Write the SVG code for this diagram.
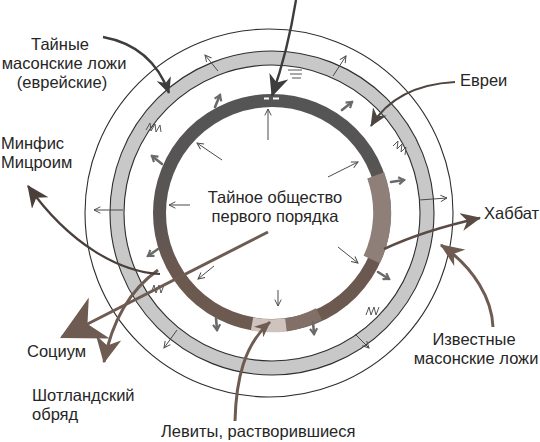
<svg xmlns="http://www.w3.org/2000/svg" width="540" height="442" viewBox="0 0 540 442">
<defs>
<style>
text{font-family:"Liberation Sans",Arial,sans-serif;font-size:16.5px;fill:#262626}
.thin{fill:none;stroke:#4a4a4a;stroke-width:1;marker-end:url(#vt)}
.gr{fill:none;stroke:#6a6a6a;stroke-width:2.6;stroke-linecap:round;marker-end:url(#vg)}
.edge{fill:none;stroke:#2e2e2e;stroke-width:1.1}
.scr{fill:none;stroke:#555;stroke-width:1}
.bigd{fill:none;stroke:#3d3d3d;stroke-width:2.4}
.bigb{fill:none;stroke:#6e5b52;stroke-width:3}
</style>
<linearGradient id="ringg" gradientUnits="userSpaceOnUse" x1="0" y1="95" x2="0" y2="332">
<stop offset="0" stop-color="#555555"/>
<stop offset="0.5" stop-color="#595554"/>
<stop offset="0.72" stop-color="#6a5850"/>
<stop offset="1" stop-color="#6d5a50"/>
</linearGradient>
<marker id="vt" viewBox="0 0 10 10" refX="9" refY="5" markerWidth="8" markerHeight="8" markerUnits="userSpaceOnUse" orient="auto"><path d="M1,1 L9,5 L1,9" fill="none" stroke="#4a4a4a" stroke-width="1.2"/></marker>
<marker id="vg" viewBox="0 0 10 10" refX="8" refY="5" markerWidth="9" markerHeight="9" markerUnits="userSpaceOnUse" orient="auto"><path d="M2,1 L8,5 L2,9" fill="none" stroke="#6a6a6a" stroke-width="2.4"/></marker>
<marker id="hTop" viewBox="0 0 20 16" refX="19" refY="8" markerWidth="22" markerHeight="20" markerUnits="userSpaceOnUse" orient="auto" preserveAspectRatio="none"><path d="M0,0 L20,8 L0,16 L6,8 z" fill="#3d3d3d"/></marker>
<marker id="hTai" viewBox="0 0 20 16" refX="19" refY="8" markerWidth="16" markerHeight="15" markerUnits="userSpaceOnUse" orient="auto" preserveAspectRatio="none"><path d="M0,0 L20,8 L0,16 L6,8 z" fill="#3d3d3d"/></marker>
<marker id="hEv" viewBox="0 0 20 16" refX="19" refY="8" markerWidth="18" markerHeight="16" markerUnits="userSpaceOnUse" orient="auto" preserveAspectRatio="none"><path d="M0,0 L20,8 L0,16 L6,8 z" fill="#4d4541"/></marker>
<marker id="hMin" viewBox="0 0 20 16" refX="19" refY="8" markerWidth="22" markerHeight="20" markerUnits="userSpaceOnUse" orient="auto" preserveAspectRatio="none"><path d="M0,0 L20,8 L0,16 L6,8 z" fill="#4a3f3b"/></marker>
<marker id="hHab" viewBox="0 0 20 16" refX="19" refY="8" markerWidth="20" markerHeight="18" markerUnits="userSpaceOnUse" orient="auto" preserveAspectRatio="none"><path d="M0,0 L20,8 L0,16 L6,8 z" fill="#5b4b45"/></marker>
<marker id="hIzv" viewBox="0 0 20 16" refX="19" refY="8" markerWidth="24" markerHeight="20" markerUnits="userSpaceOnUse" orient="auto" preserveAspectRatio="none"><path d="M0,0 L20,8 L0,16 L6,8 z" fill="#6e5b52"/></marker>
<marker id="hLev" viewBox="0 0 20 16" refX="19" refY="8" markerWidth="16" markerHeight="14" markerUnits="userSpaceOnUse" orient="auto" preserveAspectRatio="none"><path d="M0,0 L20,8 L0,16 L6,8 z" fill="#6e5b52"/></marker>
<marker id="hSoc" viewBox="0 0 20 16" refX="19" refY="8" markerWidth="44" markerHeight="46" markerUnits="userSpaceOnUse" orient="auto" preserveAspectRatio="none"><path d="M0,0 L20,8 L0,16 L6,8 z" fill="#6e5b52"/></marker>
<marker id="hSho" viewBox="0 0 20 16" refX="19" refY="8" markerWidth="26" markerHeight="26" markerUnits="userSpaceOnUse" orient="auto" preserveAspectRatio="none"><path d="M0,0 L20,8 L0,16 L6,8 z" fill="#6e5b52"/></marker>
</defs>
<rect width="540" height="442" fill="#ffffff"/>

<g id="outer-circle">
<circle cx="269" cy="213" r="184" class="edge"/>
</g>

<g id="gray-ring">
<circle cx="272" cy="213" r="155" fill="none" stroke="#c8c8c8" stroke-width="14"/>
<circle cx="272" cy="213" r="162" class="edge"/>
<circle cx="272" cy="213" r="148" class="edge"/>
</g>

<g id="dark-ring">
<circle cx="272" cy="213" r="112.5" fill="none" stroke="url(#ringg)" stroke-width="13"/>
<path d="M375.7,175.4 A110,110 0 0 1 371.7,259.5" fill="none" stroke="#8e8078" stroke-width="18"/>
<path d="M319,314 A112.5,112.5 0 0 1 286,325" fill="none" stroke="#827067" stroke-width="13"/>
<path d="M286,325 A112.5,112.5 0 0 1 252,324" fill="none" stroke="#cfc3bd" stroke-width="13"/>
<path d="M264,98.5 h5 M273,98.5 h6" stroke="#ffffff" stroke-width="2"/>
</g>

<g id="scribbles">
<path class="scr" d="M146,130 l4,-7 l1,8 l4,-7 l1,8 l4,-7 l1,7" />
<path class="scr" d="M393,146 l5,-5 l-1,8 l5,-5 l-1,8 l5,-5 l-1,8" />
<path class="scr" d="M151,293 l3,-8 l2,8 l3,-8 l2,8 l3,-8" />
<path class="scr" stroke="#999" d="M366,315 l3,-8 l2,8 l3,-8 l2,8 l3,-8" />
<path class="scr" stroke="#aaa" d="M288,70 h14 M290,74 h12 M292,78 h9" />
</g>

<g id="connectors">
<path class="thin" d="M268,140 L268,109"/>
<path class="thin" d="M222,160 L197,143"/>
<path class="thin" d="M328,177 L358,162"/>
<path class="thin" d="M190,205 L169,205"/>
<path class="thin" d="M338,247 L358,263"/>
<path class="thin" d="M214,266 L198,279"/>
<path class="thin" d="M278,290 L278,306" stroke="#777"/>
<path class="gr" d="M215,107 L220,95"/>
<path class="gr" d="M342,110 L352,102"/>
<path class="gr" d="M162,164 L152,156"/>
<path class="gr" d="M391,182 L404,180"/>
<path class="gr" d="M158,249 L148,256"/>
<path class="gr" d="M216,318 L217,330"/>
<path class="gr" d="M313,322 L314,334"/>
<path class="gr" d="M378,272 L389,279"/>
<path class="thin" d="M218,71 L205,55"/>
<path class="thin" d="M333,76 L346,56"/>
<path class="thin" d="M123,210 L94,210"/>
<path class="thin" d="M419,200 L447,198"/>
<path class="thin" d="M177,330 L164,348"/>
<path class="thin" d="M355,334 L369,348"/>
<path class="bigd" d="M296,0 Q288,50 272,96" marker-end="url(#hTop)"/>
<path class="bigd" d="M103,37 Q152,46 169,93" marker-end="url(#hTai)"/>
<path d="M455,82 C418,84 388,98 371,126" fill="none" stroke="#4d4541" stroke-width="2.2" marker-end="url(#hEv)"/>
<path d="M384,249 Q425,230 480,218" fill="none" stroke="#5b4b45" stroke-width="2.5" marker-end="url(#hHab)"/>
<path class="bigb" d="M493,327 C492,300 475,268 441,245" marker-end="url(#hIzv)"/>
<path class="bigb" d="M235,421 C236,380 244,345 270,322" marker-end="url(#hLev)"/>
<path class="bigb" d="M268,232 L62,337" stroke-width="3.5" marker-end="url(#hSoc)"/>
<path class="bigb" d="M158,270 Q116,300 104,362" stroke-width="2.5" marker-end="url(#hSho)"/>
<path d="M160,274 C120,272 70,245 28,186" fill="none" stroke="#4a3f3b" stroke-width="2.2" marker-end="url(#hMin)"/>
</g>

<g id="labels">
<g id="n-tainye"><text x="60" y="50" text-anchor="middle">Тайные</text><text x="64" y="69" text-anchor="middle">масонские  ложи</text><text x="62" y="88" text-anchor="middle">(еврейские)</text></g>
<g id="n-minfis"><text x="1" y="149">Минфис</text><text x="1" y="168">Мицроим</text></g>
<g id="n-evrei"><text x="460" y="86">Евреи</text></g>
<g id="n-habbat"><text x="484" y="219">Хаббат</text></g>
<g id="n-center"><text x="275" y="203" text-anchor="middle">Тайное общество</text><text x="275" y="222" text-anchor="middle">первого порядка</text></g>
<g id="n-socium"><text x="27" y="357">Социум</text></g>
<g id="n-shotl"><text x="32" y="401">Шотландский</text><text x="32" y="420">обряд</text></g>
<g id="n-levity"><text x="161" y="437" font-size="17.5">Левиты, растворившиеся</text></g>
<g id="n-izv"><text x="474" y="345" text-anchor="middle">Известные</text><text x="476" y="364" text-anchor="middle">масонские ложи</text></g>
</g>
</svg>
